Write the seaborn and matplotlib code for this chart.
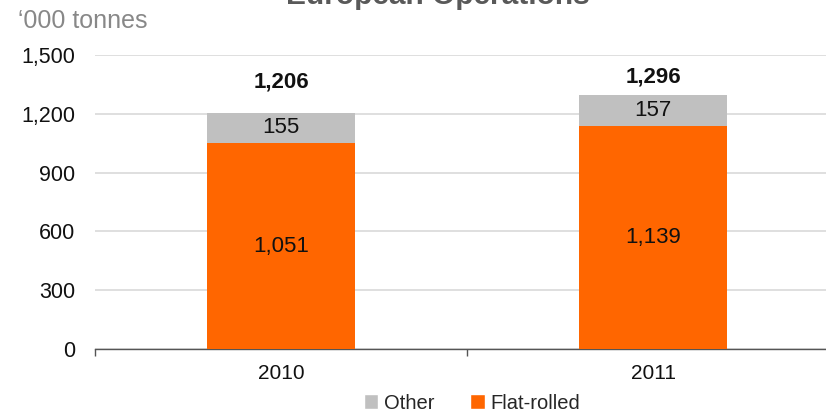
import matplotlib
matplotlib.use("Agg")
import matplotlib.pyplot as plt
import seaborn as sns
import pandas as pd
from matplotlib.patches import Patch
from matplotlib.ticker import FixedLocator

years = ["2010", "2011"]
flat_rolled = [1051, 1139]
other = [155, 157]
totals = [1206, 1296]
# vertical gap (points) between each bar top and its total label
total_label_gap = [22, 13]

ORANGE = "#FF6600"
GREY = "#C0C0C0"

sns.set_theme(style="white")
plt.rcParams["font.family"] = ["Liberation Sans", "DejaVu Sans"]

df = pd.DataFrame({"year": years, "flat": flat_rolled, "other": other, "total": totals})

fig = plt.figure(figsize=(8.26, 4.11), dpi=100)
ax = fig.add_axes([95 / 826, 62 / 411, 744 / 826, 294 / 411])

sns.barplot(data=df, x="year", y="total", color=GREY, width=0.4, saturation=1, linewidth=0, ax=ax, zorder=3)
sns.barplot(data=df, x="year", y="flat", color=ORANGE, width=0.4, saturation=1, linewidth=0, ax=ax, zorder=3)

ax.set_xlim(-0.5, 1.5)
ax.set_ylim(0, 1500)
yt = [0, 300, 600, 900, 1200, 1500]
ax.set_yticks(yt)
ax.set_yticklabels([f"{v:,}" for v in yt], fontsize=15.5, color="#111111")
ax.yaxis.grid(True, color="#D9D9D9", linewidth=1.2, zorder=0)
ax.set_axisbelow(True)
ax.set_xlabel("")
ax.set_ylabel("")
ax.tick_params(axis="y", length=0, pad=14)
ax.tick_params(axis="x", which="major", length=0, pad=11, labelsize=15, labelcolor="#111111")
ax.xaxis.set_minor_locator(FixedLocator([-0.5, 0.5, 1.5]))
ax.tick_params(axis="x", which="minor", length=5, width=1, color="#555555", direction="out", bottom=True)

for side in ["top", "right", "left"]:
    ax.spines[side].set_visible(False)
ax.spines["bottom"].set_color("#555555")
ax.spines["bottom"].set_linewidth(1)

for i in range(len(years)):
    ax.text(i, flat_rolled[i] / 2, f"{flat_rolled[i]:,}", ha="center", va="center", fontsize=16,
            color="#111111", zorder=4)
    ax.text(i, flat_rolled[i] + other[i] / 2, f"{other[i]:,}", ha="center", va="center", fontsize=16,
            color="#111111", zorder=4)
    ax.annotate(f"{totals[i]:,}", (i, totals[i]), xytext=(0, total_label_gap[i]), textcoords="offset points",
                ha="center", va="center", fontsize=16, fontweight="bold", color="#111111")

fig.text(18 / 826, 1 - 21 / 411, "\u2018000 tonnes", ha="left", va="center", fontsize=18, color="#888888")
fig.text(438 / 826, 1 - 3.5 / 411, "European Operations", ha="center", va="baseline", fontsize=21.5,
         fontweight="bold", color="#595959")

handles = [Patch(facecolor=GREY, label="Other"), Patch(facecolor=ORANGE, label="Flat-rolled")]
fig.legend(handles=handles, loc="center", bbox_to_anchor=(472 / 826, 1 - 403 / 411), ncol=2, frameon=False,
           fontsize=14.5, handlelength=0.7, handleheight=0.7, handletextpad=0.3, columnspacing=1.8,
           borderpad=0, borderaxespad=0)

fig.savefig("out.png", dpi=100)
